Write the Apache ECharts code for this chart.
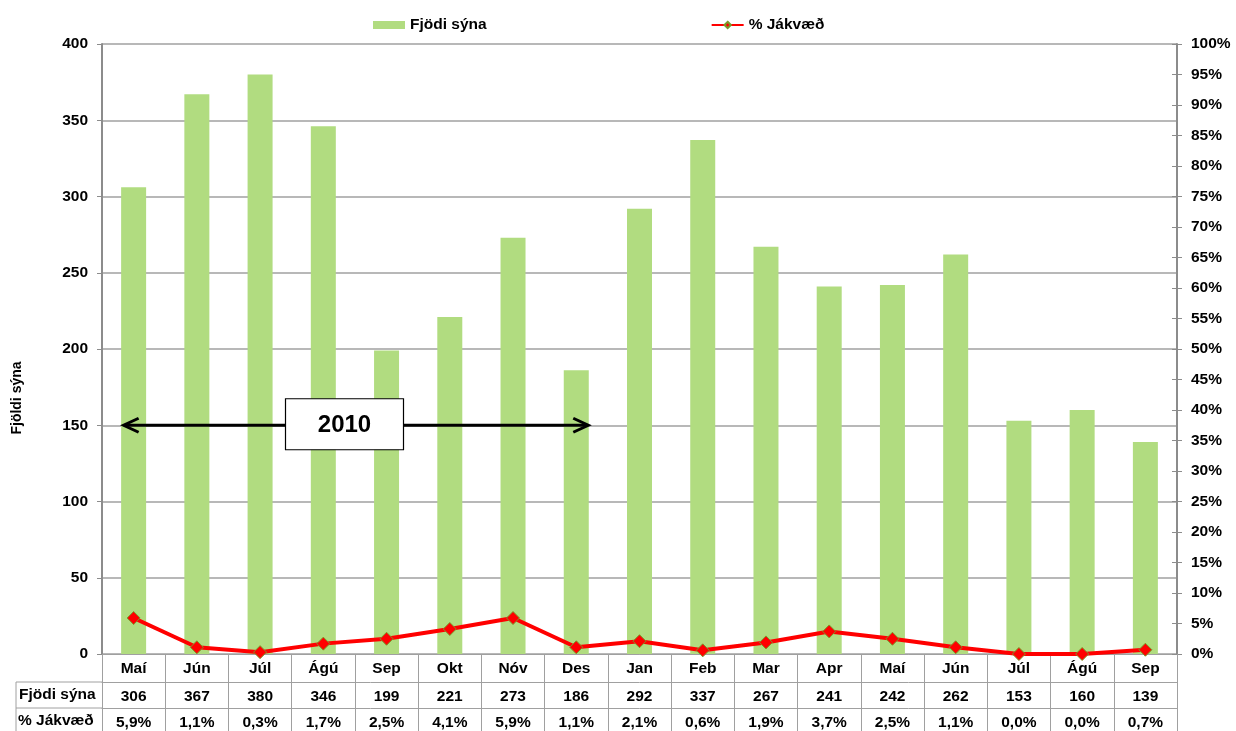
<!DOCTYPE html>
<html>
<head>
<meta charset="utf-8">
<script src="https://cdn.jsdelivr.net/npm/echarts@6/dist/echarts.min.js"></script>
<style>
  html, body { margin: 0; padding: 0; background: #fff; }
  #chart { width: 1236px; height: 731px; }
</style>
</head>
<body>
<div id="chart"></div>
<script>
var months = ['Maí', 'Jún', 'Júl', 'Ágú', 'Sep', 'Okt', 'Nóv', 'Des', 'Jan', 'Feb', 'Mar', 'Apr', 'Maí', 'Jún', 'Júl', 'Ágú', 'Sep'];
var samples = [306, 367, 380, 346, 199, 221, 273, 186, 292, 337, 267, 241, 242, 262, 153, 160, 139];
var positive = [5.9, 1.1, 0.3, 1.7, 2.5, 4.1, 5.9, 1.1, 2.1, 0.6, 1.9, 3.7, 2.5, 1.1, 0.0, 0.0, 0.7];
var leftTicks = [0, 400, 50];
var rightTicks = [0, 100, 5];
var yearLabel = '2010';

var FONT = '"Liberation Sans", Arial, sans-serif';
var GREY = '#a0a0a0';
var AXIS = '#8c8c8c';
var FS = 15.5;

function pctText(v) {
    return v.toFixed(1).replace('.', ',') + '%';
}

var dom = document.getElementById('chart');
var myChart = echarts.init(dom);

var gridLeft = 102, gridRight = 59, gridTop = 44, gridBottom = 77;

function tableAxis(offset, fmt, tickLen) {
    return {
        type: 'category',
        data: months,
        position: 'bottom',
        offset: offset,
        boundaryGap: true,
        axisLine: { show: true, onZero: false, lineStyle: { color: GREY, width: 1 } },
        axisTick: { show: tickLen > 0, alignWithLabel: false, length: tickLen, lineStyle: { color: GREY, width: 1 } },
        axisLabel: {
            margin: 7,
            interval: 0,
            color: '#000',
            fontFamily: FONT,
            fontWeight: 'bold',
            fontSize: FS,
            formatter: fmt
        },
        splitLine: { show: false }
    };
}

var option = {
    backgroundColor: '#fff',
    animation: false,
    textStyle: { fontFamily: FONT },
    legend: {
        left: 368,
        top: 12,
        itemGap: 224,
        itemWidth: 32,
        itemHeight: 8,
        textStyle: { color: '#000', fontFamily: FONT, fontWeight: 'bold', fontSize: FS },
        data: [
            { name: 'Fjödi sýna', icon: 'rect' },
            { name: '% Jákvæð' }
        ]
    },
    grid: { left: gridLeft, right: gridRight, top: gridTop, bottom: gridBottom },
    xAxis: [
        tableAxis(0, function (v) { return v; }, gridBottom),
        tableAxis(28, function (v, i) { return String(samples[i]); }, 0),
        tableAxis(54, function (v, i) { return pctText(positive[i]); }, 0)
    ],
    yAxis: [
        {
            type: 'value',
            min: leftTicks[0],
            max: leftTicks[1],
            interval: leftTicks[2],
            axisLine: { show: true, lineStyle: { color: AXIS, width: 2 } },
            axisTick: { show: true, length: 5, lineStyle: { color: AXIS } },
            axisLabel: { margin: 14, color: '#000', fontFamily: FONT, fontWeight: 'bold', fontSize: FS },
            splitLine: { show: true, lineStyle: { color: GREY, width: 1.5 } }
        },
        {
            type: 'value',
            position: 'right',
            min: rightTicks[0],
            max: rightTicks[1],
            interval: rightTicks[2],
            axisLine: { show: true, lineStyle: { color: AXIS, width: 2 } },
            axisTick: { show: true, length: 5, lineStyle: { color: AXIS } },
            axisLabel: { margin: 14, color: '#000', fontFamily: FONT, fontWeight: 'bold', fontSize: FS, formatter: '{value}%' },
            splitLine: { show: false }
        },
        {
            type: 'value',
            position: 'right',
            min: rightTicks[0],
            max: rightTicks[1],
            interval: rightTicks[2],
            axisLine: { show: false },
            axisTick: { show: true, inside: true, length: 5, lineStyle: { color: AXIS } },
            axisLabel: { show: false },
            splitLine: { show: false }
        }
    ],
    series: [
        {
            name: 'Fjödi sýna',
            type: 'bar',
            xAxisIndex: 0,
            yAxisIndex: 0,
            data: samples,
            barWidth: 25,
            itemStyle: { color: '#b1dc80' }
        },
        {
            name: '% Jákvæð',
            type: 'line',
            xAxisIndex: 0,
            yAxisIndex: 1,
            data: positive,
            symbol: 'diamond',
            symbolSize: 13,
            lineStyle: { color: '#ff0000', width: 4 },
            itemStyle: { color: '#ff0000', borderColor: '#7a9a2a', borderWidth: 1 },
            z: 5
        }
    ]
};

myChart.setOption(option);

// annotation: year arrow and table row headers
var yArrow = myChart.convertToPixel({ yAxisIndex: 0 }, 150);
var xFirst = myChart.convertToPixel({ xAxisIndex: 0 }, 0);
var xLast = myChart.convertToPixel({ xAxisIndex: 0 }, 7);
var x1 = xFirst - 11, x2 = xLast + 13;
var chartH = 731;
var axisY = chartH - gridBottom;

myChart.setOption({
    graphic: [
        {
            type: 'line',
            shape: { x1: x1 + 2, y1: yArrow, x2: x2 - 2, y2: yArrow },
            style: { stroke: '#000', lineWidth: 3 },
            z: 10
        },
        {
            type: 'polyline',
            shape: { points: [[x1 + 16, yArrow - 7], [x1 + 1, yArrow], [x1 + 16, yArrow + 7]] },
            style: { stroke: '#000', lineWidth: 3, fill: null },
            z: 10
        },
        {
            type: 'polyline',
            shape: { points: [[x2 - 16, yArrow - 7], [x2 - 1, yArrow], [x2 - 16, yArrow + 7]] },
            style: { stroke: '#000', lineWidth: 3, fill: null },
            z: 10
        },
        {
            type: 'rect',
            shape: { x: 285.5, y: yArrow - 26.5, width: 118, height: 51 },
            style: { fill: '#fff', stroke: '#000', lineWidth: 1.2 },
            z: 11
        },
        {
            type: 'text',
            x: 344.5, y: yArrow,
            style: { text: yearLabel, fill: '#000', font: 'bold 24px ' + FONT, align: 'center', verticalAlign: 'middle' },
            z: 12
        },
        {
            type: 'text',
            x: 17, y: 398,
            rotation: Math.PI / 2,
            style: { text: 'Fjöldi sýna', fill: '#000', font: 'bold 14px ' + FONT, align: 'center', verticalAlign: 'middle' }
        },
        {
            type: 'polyline',
            shape: { points: [[gridLeft, axisY + 28], [16, axisY + 28], [16, chartH]] },
            style: { stroke: GREY, lineWidth: 1, fill: null }
        },
        {
            type: 'line',
            shape: { x1: 16, y1: axisY + 54, x2: gridLeft, y2: axisY + 54 },
            style: { stroke: GREY, lineWidth: 1 }
        },
        {
            type: 'text',
            x: 19, y: axisY + 41,
            style: { text: 'Fjödi sýna', fill: '#000', font: 'bold ' + FS + 'px ' + FONT, align: 'left', verticalAlign: 'middle' }
        },
        {
            type: 'text',
            x: 18, y: axisY + 67,
            style: { text: '% Jákvæð', fill: '#000', font: 'bold ' + FS + 'px ' + FONT, align: 'left', verticalAlign: 'middle' }
        }
    ]
});
</script>
</body>
</html>
